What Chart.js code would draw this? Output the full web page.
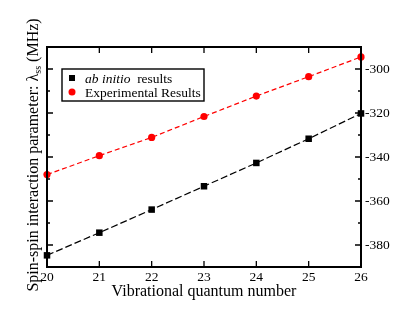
<!DOCTYPE html>
<html>
<head>
<meta charset="utf-8">
<script src="https://cdn.jsdelivr.net/npm/chart.js@4"></script>
<style>
  html, body { margin: 0; padding: 0; background: #fff; }
  #wrap { width: 407px; height: 315px; }
</style>
</head>
<body>
<div id="wrap"><canvas id="spinChart" width="407" height="315"></canvas></div>
<script>
// vibrational quantum numbers
const vibLevels = [20, 21, 22, 23, 24, 25, 26];
// lambda_ss values in MHz
const abInitioValues = [-384.7, -374.4, -363.9, -353.3, -342.7, -331.7, -320.2];
const experimentalValues = [-348.0, -339.4, -331.1, -321.6, -312.3, -303.5, -294.5];
const seriesLabels = ['ab initio results', 'Experimental Results'];
const yMajorTicks = [-380, -360, -340, -320, -300];

const SERIF = '"Liberation Serif", "Times New Roman", serif';

// frame, inward ticks, titles and the boxed legend
const framePlugin = {
    id: 'framePlugin',
    afterDraw(chart) {
        const ctx = chart.ctx;
        const a = chart.chartArea;
        const xs = chart.scales.x;
        const ys = chart.scales.y;
        ctx.save();
        ctx.strokeStyle = '#000';
        ctx.lineWidth = 2;
        ctx.strokeRect(a.left, a.top, a.right - a.left, a.bottom - a.top);

        ctx.lineWidth = 1.3;
        ctx.beginPath();
        vibLevels.forEach(v => {
            const px = xs.getPixelForValue(v);
            ctx.moveTo(px, a.bottom); ctx.lineTo(px, a.bottom - 6);
            ctx.moveTo(px, a.top); ctx.lineTo(px, a.top + 6);
        });
        for (let v = -390; v <= -290; v += 10) {
            const py = ys.getPixelForValue(v);
            const len = yMajorTicks.includes(v) ? 6 : 3;
            ctx.moveTo(a.left, py); ctx.lineTo(a.left + len, py);
            ctx.moveTo(a.right, py); ctx.lineTo(a.right - len, py);
        }
        ctx.stroke();

        // x title
        ctx.fillStyle = '#000';
        ctx.font = '16px ' + SERIF;
        ctx.textAlign = 'center';
        ctx.textBaseline = 'alphabetic';
        ctx.fillText('Vibrational quantum number', (a.left + a.right) / 2, 296);

        // y title with subscript
        const p1 = 'Spin-spin interaction parameter: \u03bb';
        const p2 = 'ss';
        const p3 = ' (MHz)';
        ctx.font = '16px ' + SERIF;
        const w1 = ctx.measureText(p1).width;
        const w3 = ctx.measureText(p3).width;
        ctx.font = '10px ' + SERIF;
        const w2 = ctx.measureText(p2).width;
        const total = w1 + w2 + w3;
        ctx.save();
        ctx.translate(38, 155);
        ctx.rotate(-Math.PI / 2);
        ctx.textAlign = 'left';
        let x0 = -total / 2;
        ctx.font = '16px ' + SERIF;
        ctx.fillText(p1, x0, 0);
        ctx.font = '10px ' + SERIF;
        ctx.fillText(p2, x0 + w1, 3);
        ctx.font = '16px ' + SERIF;
        ctx.fillText(p3, x0 + w1 + w2, 0);
        ctx.restore();

        // legend
        const lx = 62, ly = 69, lw = 142, lh = 32;
        ctx.fillStyle = '#fff';
        ctx.fillRect(lx, ly, lw, lh);
        ctx.lineWidth = 1.4;
        ctx.strokeRect(lx, ly, lw, lh);
        ctx.textAlign = 'left';
        ctx.font = '13.5px ' + SERIF;
        chart.data.datasets.forEach((ds, i) => {
            const cy = ly + 9 + i * 14;
            ctx.fillStyle = ds.pointBackgroundColor;
            if (ds.pointStyle === 'rect') {
                ctx.fillRect(72 - 3, cy - 3, 6, 6);
            } else {
                ctx.beginPath();
                ctx.arc(72, cy, 3.5, 0, Math.PI * 2);
                ctx.fill();
            }
            ctx.fillStyle = '#000';
            const label = seriesLabels[i];
            if (label.startsWith('ab initio')) {
                ctx.font = 'italic 13.5px ' + SERIF;
                ctx.fillText('ab initio', 85, cy + 4.5);
                const wi = ctx.measureText('ab initio ').width;
                ctx.font = '13.5px ' + SERIF;
                ctx.fillText(' results', 85 + wi, cy + 4.5);
            } else {
                ctx.font = '13.5px ' + SERIF;
                ctx.fillText(label, 85, cy + 4.5);
            }
        });
        ctx.restore();
    }
};

const ctx = document.getElementById('spinChart');
new Chart(ctx, {
    type: 'line',
    data: {
        datasets: [{
            label: seriesLabels[0],
            data: vibLevels.map((v, i) => ({ x: v, y: abInitioValues[i] })),
            borderColor: '#000',
            borderWidth: 1.2,
            borderDash: [7, 3],
            pointStyle: 'rect',
            pointRadius: 4.6,
            pointBackgroundColor: '#000',
            pointBorderWidth: 0,
            clip: false
        }, {
            label: seriesLabels[1],
            data: vibLevels.map((v, i) => ({ x: v, y: experimentalValues[i] })),
            borderColor: '#ff0000',
            borderWidth: 1.2,
            borderDash: [5, 3],
            pointStyle: 'circle',
            pointRadius: 3.6,
            pointBackgroundColor: '#ff0000',
            pointBorderWidth: 0,
            clip: false
        }]
    },
    options: {
        responsive: false,
        animation: false,
        layout: { padding: { left: 47, top: 47, right: 0, bottom: 0 } },
        plugins: { legend: { display: false }, tooltip: { enabled: false } },
        scales: {
            x: {
                type: 'linear',
                min: 20,
                max: 26,
                grid: { display: false, drawTicks: false },
                border: { display: false },
                ticks: {
                    stepSize: 1,
                    padding: 2,
                    color: '#000',
                    font: { family: SERIF, size: 13.5 }
                },
                afterFit(scale) { scale.height = 48; }
            },
            y: {
                position: 'right',
                min: -390,
                max: -290,
                grid: { display: false, drawTicks: false },
                border: { display: false },
                ticks: {
                    stepSize: 10,
                    padding: 4,
                    color: '#000',
                    font: { family: SERIF, size: 13.5 },
                    callback: function (value) {
                        return yMajorTicks.includes(value) ? value : '';
                    }
                },
                afterFit(scale) { scale.width = 46; }
            }
        }
    },
    plugins: [framePlugin]
});
</script>
</body>
</html>
